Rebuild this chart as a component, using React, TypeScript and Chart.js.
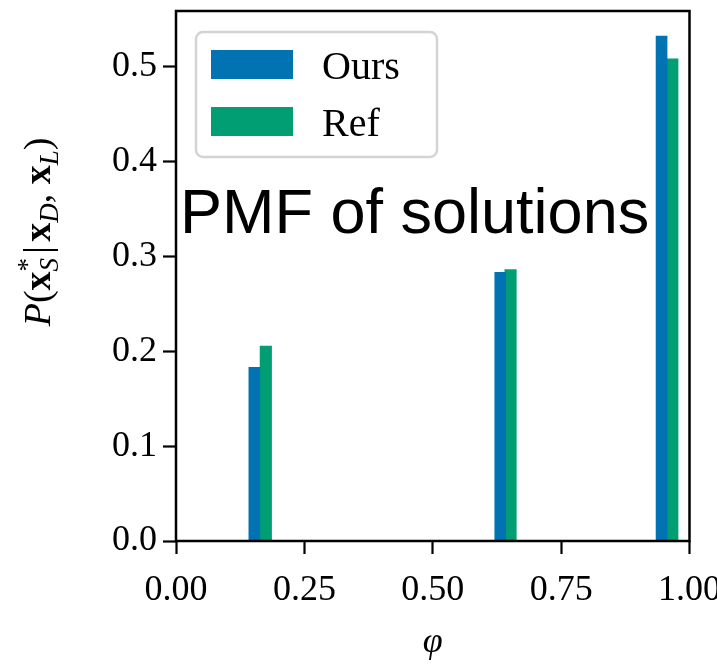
import React, { useEffect, useRef } from 'react';
import { Chart, registerables } from 'chart.js';

Chart.register(...registerables);

const seriesLabels = ['Ours', 'Ref'];
const seriesColors = ['#0173B2', '#029E73'];
const oursPhi = [0.1526, 0.6315, 0.9456];
const oursProb = [0.183, 0.283, 0.532];
const refPhi = [0.1749, 0.6515, 0.9665];
const refProb = [0.2055, 0.286, 0.508];
const xTickValues = [0, 0.25, 0.5, 0.75, 1];
const xTickLabels = ['0.00', '0.25', '0.50', '0.75', '1.00'];
const yTickValues = [0, 0.1, 0.2, 0.3, 0.4, 0.5];
const yTickLabels = ['0.0', '0.1', '0.2', '0.3', '0.4', '0.5'];
const xRange = [0, 1];
const yRange = [0, 0.5585];
const xAxisTitle = 'φ';
const overlayTitle = 'PMF of solutions';

const SERIF = '"Liberation Serif", "DejaVu Serif", serif';
const SANS = '"Liberation Sans", Arial, sans-serif';

const framePlugin = {
  id: 'frame',
  afterDatasetsDraw(chart: any) {
    const { ctx, chartArea: a } = chart;
    ctx.save();
    ctx.strokeStyle = '#000';
    ctx.lineWidth = 2.5;
    ctx.strokeRect(a.left, a.top, a.right - a.left, a.bottom - a.top);
    ctx.restore();
  },
};

const overlayPlugin = {
  id: 'overlay',
  afterDraw(chart: any) {
    const { ctx, chartArea: a } = chart;
    ctx.save();
    // legend
    const lx = a.left + 20;
    const ly = a.top + 21;
    const lw = 241;
    const lh = 125;
    ctx.beginPath();
    (ctx as any).roundRect(lx, ly, lw, lh, 7);
    ctx.fillStyle = 'rgba(255,255,255,0.8)';
    ctx.fill();
    ctx.strokeStyle = '#d4d4d4';
    ctx.lineWidth = 2.5;
    ctx.stroke();
    chart.data.datasets.forEach((ds: any, i: number) => {
      const top = ly + 18 + i * 57;
      ctx.fillStyle = ds.backgroundColor;
      ctx.fillRect(lx + 15, top, 82, 29);
      ctx.fillStyle = '#000';
      ctx.font = `40px ${SERIF}`;
      ctx.textBaseline = 'alphabetic';
      ctx.textAlign = 'left';
      ctx.fillText(ds.label, lx + 126, top + 29);
    });
    // overlay title
    ctx.font = `63px ${SANS}`;
    ctx.fillStyle = '#000';
    ctx.textBaseline = 'alphabetic';
    ctx.fillText(overlayTitle, a.left + 4, 233);
    // y-axis title with sub/superscripts
    const big = 38;
    const small = 27;
    const segs: { t: string; f: string; dy: number }[][] = [
      [{ t: 'P', f: `italic ${big}px ${SERIF}`, dy: 0 }],
      [{ t: '(', f: `${big}px ${SERIF}`, dy: 0 }],
      [{ t: 'x', f: `bold ${big}px ${SERIF}`, dy: 0 }],
      [
        { t: '*', f: `${small}px ${SERIF}`, dy: -14 },
        { t: 'S', f: `italic ${small}px ${SERIF}`, dy: 8 },
      ],
      [{ t: ' ', f: `${small - 10}px ${SERIF}`, dy: 0 }],
      [{ t: '|', f: `${big}px ${SERIF}`, dy: 0 }],
      [{ t: ' ', f: `${small - 10}px ${SERIF}`, dy: 0 }],
      [{ t: 'x', f: `bold ${big}px ${SERIF}`, dy: 0 }],
      [{ t: 'D', f: `italic ${small}px ${SERIF}`, dy: 8 }],
      [{ t: ', ', f: `${big}px ${SERIF}`, dy: 0 }],
      [{ t: 'x', f: `bold ${big}px ${SERIF}`, dy: 0 }],
      [{ t: 'L', f: `italic ${small}px ${SERIF}`, dy: 8 }],
      [{ t: ')', f: `${big}px ${SERIF}`, dy: 0 }],
    ];
    const widths = segs.map((s) =>
      Math.max(
        ...s.map((p) => {
          ctx.font = p.f;
          return ctx.measureText(p.t).width;
        })
      )
    );
    const total = widths.reduce((u, v) => u + v, 0);
    ctx.translate(50, 232);
    ctx.rotate(-Math.PI / 2);
    let x = -total / 2;
    segs.forEach((s, i) => {
      s.forEach((p) => {
        if (p.t.trim() === '') return;
        ctx.font = p.f;
        ctx.fillText(p.t, x, p.dy);
      });
      x += widths[i];
    });
    ctx.restore();
  },
};

export default function App() {
  const ref = useRef<HTMLCanvasElement | null>(null);
  useEffect(() => {
    if (!ref.current) return;
    const chart = new Chart(ref.current, {
      type: 'bar',
      data: {
        datasets: [
          {
            label: seriesLabels[0],
            data: oursPhi.map((x, i) => ({ x, y: oursProb[i] })),
            backgroundColor: seriesColors[0],
            barThickness: 11,
            borderWidth: 0,
          },
          {
            label: seriesLabels[1],
            data: refPhi.map((x, i) => ({ x, y: refProb[i] })),
            backgroundColor: seriesColors[1],
            barThickness: 11.5,
            borderWidth: 0,
          },
        ],
      },
      options: {
        animation: false,
        responsive: false,
        grouped: false,
        layout: { padding: { top: 11, right: 27.5, left: 0, bottom: 0 } },
        plugins: { legend: { display: false }, tooltip: { enabled: false } },
        scales: {
          x: {
            type: 'linear',
            offset: false,
            min: xRange[0],
            max: xRange[1],
            afterBuildTicks: (s: any) => {
              s.ticks = xTickValues.map((v) => ({ value: v }));
            },
            afterFit: (s: any) => {
              s.height = 123;
              s.paddingLeft = 0;
              s.paddingRight = 0;
            },
            ticks: {
              autoSkip: false,
              maxRotation: 0,
              padding: 15,
              color: '#000',
              font: { family: SERIF, size: 36 },
              callback: (_v: any, i: number) => xTickLabels[i],
            },
            grid: {
              offset: false,
              drawOnChartArea: false,
              drawTicks: true,
              tickLength: 13,
              tickWidth: 2.2,
              tickColor: '#000',
            },
            border: { display: false },
            title: {
              display: true,
              text: xAxisTitle,
              color: '#000',
              font: { family: SERIF, size: 36, style: 'italic' },
              padding: { top: 0, bottom: 0 },
            },
          },
          y: {
            type: 'linear',
            min: yRange[0],
            max: yRange[1],
            afterBuildTicks: (s: any) => {
              s.ticks = yTickValues.map((v) => ({ value: v }));
            },
            afterFit: (s: any) => {
              s.width = 176;
              s.paddingTop = 0;
              s.paddingBottom = 0;
            },
            ticks: {
              padding: 6,
              color: '#000',
              font: { family: SERIF, size: 36 },
              callback: (_v: any, i: number) => yTickLabels[i],
            },
            grid: {
              offset: false,
              drawOnChartArea: false,
              drawTicks: true,
              tickLength: 13,
              tickWidth: 2.2,
              tickColor: '#000',
            },
            border: { display: false },
          },
        },
      } as any,
      plugins: [framePlugin, overlayPlugin],
    });
    return () => chart.destroy();
  }, []);
  return (
    <div style={{ position: 'fixed', left: 0, top: 0, width: 717, height: 664, background: '#fff' }}>
      <canvas ref={ref} width={717} height={664} style={{ width: 717, height: 664 }} />
    </div>
  );
}
